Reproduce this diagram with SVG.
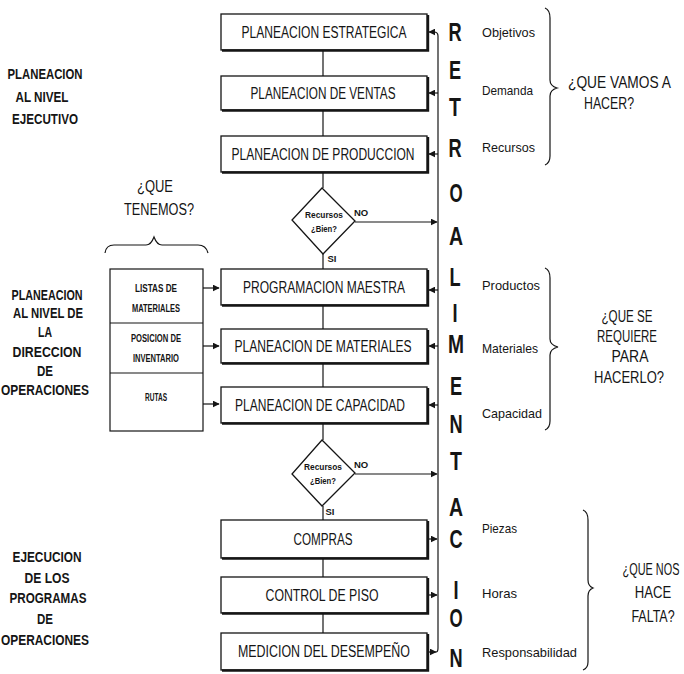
<svg xmlns="http://www.w3.org/2000/svg" width="684" height="674" viewBox="0 0 684 674">
<style>
text{font-family:"Liberation Sans",Arial,sans-serif;fill:#151515}
.box rect{fill:#fff;stroke:#151515;stroke-width:1.3}
.box .sh{fill:none;stroke:#151515;stroke-width:2.4}
.bt{font-size:16px;text-anchor:middle}
.lt{font-size:14px;font-weight:bold;text-anchor:middle}
.rt{font-size:13.5px}
.qt{font-size:16px;text-anchor:middle}
.qs{font-size:16px}
.ret{font-size:26px;font-weight:bold;text-anchor:middle}
.sm{font-size:10px;font-weight:bold;text-anchor:middle}
.dt{font-size:9.5px;font-weight:bold;text-anchor:middle}
.ln{fill:none;stroke:#151515;stroke-width:1.2}
.dia{fill:#fff;stroke:#151515;stroke-width:1.3}
</style>
<defs>
<marker id="ah" viewBox="0 0 10 10" refX="9" refY="5" markerWidth="7" markerHeight="7" orient="auto-start-reverse" markerUnits="userSpaceOnUse">
<path d="M0,0 L10,5 L0,10 z" fill="#151515"/>
</marker>
</defs>

<g id="connectors" class="ln">
<line x1="323" y1="50" x2="323" y2="76"/>
<line x1="323" y1="110" x2="323" y2="136"/>
<line x1="323" y1="172" x2="323" y2="188"/>
<line x1="323" y1="254" x2="323" y2="269"/>
<line x1="323" y1="305" x2="323" y2="329"/>
<line x1="323" y1="363" x2="323" y2="387"/>
<line x1="323" y1="423" x2="323" y2="440"/>
<line x1="323" y1="506" x2="323" y2="520"/>
<line x1="323" y1="558" x2="323" y2="577"/>
<line x1="323" y1="613" x2="323" y2="633"/>
<path d="M438,36 Q438,32 434,32 L429,32" marker-end="url(#ah)"/>
<line x1="438" y1="36" x2="438" y2="648"/>
<line x1="438" y1="93" x2="429" y2="93" marker-end="url(#ah)"/>
<line x1="438" y1="154" x2="429" y2="154" marker-end="url(#ah)"/>
<line x1="438" y1="290" x2="429" y2="290" marker-end="url(#ah)"/>
<line x1="438" y1="346" x2="429" y2="346" marker-end="url(#ah)"/>
<line x1="438" y1="405" x2="429" y2="405" marker-end="url(#ah)"/>
<line x1="355" y1="222" x2="437" y2="222" marker-end="url(#ah)"/>
<line x1="355" y1="474" x2="437" y2="474" marker-end="url(#ah)"/>
<line x1="428" y1="539" x2="437" y2="539" marker-end="url(#ah)"/>
<line x1="428" y1="595" x2="437" y2="595" marker-end="url(#ah)"/>
<path d="M428,652 L436,652" marker-end="url(#ah)"/>
<path d="M438,648 Q438,652 436,652"/>
<line x1="203" y1="288" x2="219" y2="288" marker-end="url(#ah)"/>
<line x1="203" y1="346" x2="219" y2="346" marker-end="url(#ah)"/>
<line x1="203" y1="404" x2="219" y2="404" marker-end="url(#ah)"/>
</g>

<g id="n-estrategica" class="box"><rect x="221" y="14" width="206" height="36"/><path class="sh" d="M222,50.5 H428 V15"/><text class="bt" x="324" y="38" textLength="165" lengthAdjust="spacingAndGlyphs">PLANEACION ESTRATEGICA</text></g>
<g id="n-ventas" class="box"><rect x="221" y="76" width="206" height="34"/><path class="sh" d="M222,110.5 H428 V77"/><text class="bt" x="323" y="99" textLength="145" lengthAdjust="spacingAndGlyphs">PLANEACION DE VENTAS</text></g>
<g id="n-produccion" class="box"><rect x="221" y="136" width="206" height="36"/><path class="sh" d="M222,172.5 H428 V137"/><text class="bt" x="323" y="160" textLength="183" lengthAdjust="spacingAndGlyphs">PLANEACION DE PRODUCCION</text></g>

<g id="d-recursos1"><path class="dia" d="M322,188 L355,221 L323,254 L292,220 Z"/><text class="dt" x="324" y="218" textLength="38" lengthAdjust="spacingAndGlyphs">Recursos</text><text class="dt" x="324" y="232" textLength="26" lengthAdjust="spacingAndGlyphs">¿Bien?</text><text class="dt" x="361" y="216">NO</text><text class="dt" x="332" y="262">SI</text></g>

<g id="n-maestra" class="box"><rect x="221" y="269" width="206" height="36"/><path class="sh" d="M222,305.5 H428 V270"/><text class="bt" x="324" y="293" textLength="162" lengthAdjust="spacingAndGlyphs">PROGRAMACION MAESTRA</text></g>
<g id="n-materiales" class="box"><rect x="221" y="329" width="206" height="34"/><path class="sh" d="M222,363.5 H428 V330"/><text class="bt" x="323" y="352" textLength="177" lengthAdjust="spacingAndGlyphs">PLANEACION DE MATERIALES</text></g>
<g id="n-capacidad" class="box"><rect x="221" y="387" width="206" height="36"/><path class="sh" d="M222,423.5 H428 V388"/><text class="bt" x="320" y="411" textLength="170" lengthAdjust="spacingAndGlyphs">PLANEACION DE CAPACIDAD</text></g>

<g id="d-recursos2"><path class="dia" d="M322,440 L355,473 L322,506 L292,474 Z"/><text class="dt" x="323" y="470" textLength="38" lengthAdjust="spacingAndGlyphs">Recursos</text><text class="dt" x="323" y="484" textLength="26" lengthAdjust="spacingAndGlyphs">¿Bien?</text><text class="dt" x="361" y="468">NO</text><text class="dt" x="330" y="515">SI</text></g>

<g id="n-compras" class="box"><rect x="221" y="520" width="206" height="38"/><path class="sh" d="M222,558.5 H428 V521"/><text class="bt" x="323" y="545" textLength="59" lengthAdjust="spacingAndGlyphs">COMPRAS</text></g>
<g id="n-piso" class="box"><rect x="221" y="577" width="206" height="36"/><path class="sh" d="M222,613.5 H428 V578"/><text class="bt" x="322" y="601" textLength="113" lengthAdjust="spacingAndGlyphs">CONTROL DE PISO</text></g>
<g id="n-medicion" class="box"><rect x="221" y="633" width="206" height="37"/><path class="sh" d="M222,670.5 H428 V634"/><text class="bt" x="324" y="657" textLength="172" lengthAdjust="spacingAndGlyphs">MEDICION DEL DESEMPEÑO</text></g>

<g id="n-recursos-izq">
<rect x="110" y="269" width="93" height="162" fill="#fff" stroke="#151515" stroke-width="1.2"/>
<line x1="110" y1="323" x2="203" y2="323" stroke="#151515" stroke-width="1.2"/>
<line x1="110" y1="373" x2="203" y2="373" stroke="#151515" stroke-width="1.2"/>
<text class="sm" x="156" y="292" textLength="42" lengthAdjust="spacingAndGlyphs">LISTAS DE</text>
<text class="sm" x="156" y="312" textLength="48" lengthAdjust="spacingAndGlyphs">MATERIALES</text>
<text class="sm" x="156" y="342" textLength="50" lengthAdjust="spacingAndGlyphs">POSICION DE</text>
<text class="sm" x="156" y="362" textLength="46" lengthAdjust="spacingAndGlyphs">INVENTARIO</text>
<text class="sm" x="156" y="401" textLength="22" lengthAdjust="spacingAndGlyphs">RUTAS</text>
</g>

<g id="q-tenemos">
<text class="qt" x="155" y="192" textLength="36" lengthAdjust="spacingAndGlyphs">¿QUE</text>
<text class="qt" x="159" y="215" textLength="70" lengthAdjust="spacingAndGlyphs">TENEMOS?</text>
<path class="ln" d="M105,253 Q106,245 114,245 L146,245 Q151,245 154,237 Q157,245 162,245 L198,245 Q206,245 208,253"/>
</g>

<g id="l-ejecutivo">
<text class="lt" x="45" y="79" textLength="75" lengthAdjust="spacingAndGlyphs">PLANEACION</text>
<text class="lt" x="42" y="102" textLength="53" lengthAdjust="spacingAndGlyphs">AL NIVEL</text>
<text class="lt" x="45" y="124" textLength="66" lengthAdjust="spacingAndGlyphs">EJECUTIVO</text>
</g>
<g id="l-direccion">
<text class="lt" x="47" y="300" textLength="71" lengthAdjust="spacingAndGlyphs">PLANEACION</text>
<text class="lt" x="48" y="318" textLength="70" lengthAdjust="spacingAndGlyphs">AL NIVEL DE</text>
<text class="lt" x="45" y="337" textLength="14" lengthAdjust="spacingAndGlyphs">LA</text>
<text class="lt" x="47" y="357" textLength="69" lengthAdjust="spacingAndGlyphs">DIRECCION</text>
<text class="lt" x="45" y="376" textLength="16" lengthAdjust="spacingAndGlyphs">DE</text>
<text class="lt" x="45" y="395" textLength="88" lengthAdjust="spacingAndGlyphs">OPERACIONES</text>
</g>
<g id="l-ejecucion">
<text class="lt" x="47" y="562" textLength="69" lengthAdjust="spacingAndGlyphs">EJECUCION</text>
<text class="lt" x="47" y="583" textLength="45" lengthAdjust="spacingAndGlyphs">DE LOS</text>
<text class="lt" x="48" y="603" textLength="77" lengthAdjust="spacingAndGlyphs">PROGRAMAS</text>
<text class="lt" x="45" y="624" textLength="16" lengthAdjust="spacingAndGlyphs">DE</text>
<text class="lt" x="45" y="645" textLength="88" lengthAdjust="spacingAndGlyphs">OPERACIONES</text>
</g>

<g id="retroalimentacion">
<text class="ret" transform="translate(455,41) scale(0.7,1)">R</text>
<text class="ret" transform="translate(455,79) scale(0.7,1)">E</text>
<text class="ret" transform="translate(455,116) scale(0.75,1)">T</text>
<text class="ret" transform="translate(455,157) scale(0.7,1)">R</text>
<text class="ret" transform="translate(456,202) scale(0.65,1)">O</text>
<text class="ret" transform="translate(456,245) scale(0.75,1)">A</text>
<text class="ret" transform="translate(455,286) scale(0.7,1)">L</text>
<text class="ret" transform="translate(455,322) scale(0.7,1)">I</text>
<text class="ret" transform="translate(456,353) scale(0.74,1)">M</text>
<text class="ret" transform="translate(456,395) scale(0.7,1)">E</text>
<text class="ret" transform="translate(456,433) scale(0.7,1)">N</text>
<text class="ret" transform="translate(456,470) scale(0.75,1)">T</text>
<text class="ret" transform="translate(456,516) scale(0.75,1)">A</text>
<text class="ret" transform="translate(456,548) scale(0.7,1)">C</text>
<text class="ret" transform="translate(456,599) scale(0.7,1)">I</text>
<text class="ret" transform="translate(456,627) scale(0.65,1)">O</text>
<text class="ret" transform="translate(456,667) scale(0.7,1)">N</text>
</g>

<g id="r-hacer">
<text class="rt" x="482" y="37" textLength="53" lengthAdjust="spacingAndGlyphs">Objetivos</text>
<text class="rt" x="482" y="95" textLength="51" lengthAdjust="spacingAndGlyphs">Demanda</text>
<text class="rt" x="482" y="152" textLength="53" lengthAdjust="spacingAndGlyphs">Recursos</text>
<path class="ln" d="M545,8 Q550,10 550,18 L550,80 Q550,86 557,88 Q550,90 550,96 L550,156 Q550,163 545,165"/>
<text class="qs" transform="translate(568,88) scale(0.86,1)" x="0" y="0">¿QUE VAMOS A</text>
<text class="qt" x="609" y="109" textLength="50" lengthAdjust="spacingAndGlyphs">HACER?</text>
</g>
<g id="r-hacerlo">
<text class="rt" x="482" y="290" textLength="58" lengthAdjust="spacingAndGlyphs">Productos</text>
<text class="rt" x="482" y="353" textLength="56" lengthAdjust="spacingAndGlyphs">Materiales</text>
<text class="rt" x="482" y="418" textLength="60" lengthAdjust="spacingAndGlyphs">Capacidad</text>
<path class="ln" d="M545,268 Q550,270 550,278 L550,339 Q550,345 558,347 Q550,349 550,355 L550,421 Q550,428 545,430"/>
<text class="qt" x="627" y="322" textLength="51" lengthAdjust="spacingAndGlyphs">¿QUE SE</text>
<text class="qt" x="627" y="342" textLength="60" lengthAdjust="spacingAndGlyphs">REQUIERE</text>
<text class="qt" x="630" y="362" textLength="37" lengthAdjust="spacingAndGlyphs">PARA</text>
<text class="qt" x="629" y="383" textLength="70" lengthAdjust="spacingAndGlyphs">HACERLO?</text>
</g>
<g id="r-falta">
<text class="rt" x="482" y="533" textLength="35" lengthAdjust="spacingAndGlyphs">Piezas</text>
<text class="rt" x="482" y="598" textLength="35" lengthAdjust="spacingAndGlyphs">Horas</text>
<text class="rt" x="482" y="657" textLength="95" lengthAdjust="spacingAndGlyphs">Responsabilidad</text>
<path class="ln" d="M583,510 Q588,512 588,520 L588,580 Q588,586 593,588 Q588,590 588,596 L588,662 Q588,668 583,670"/>
<text class="qt" transform="translate(651,575) scale(0.68,1)" x="0" y="0">¿QUE NOS</text>
<text class="qt" transform="translate(653,598) scale(0.82,1)" x="0" y="0">HACE</text>
<text class="qt" transform="translate(653,622) scale(0.78,1)" x="0" y="0">FALTA?</text>
</g>
</svg>
